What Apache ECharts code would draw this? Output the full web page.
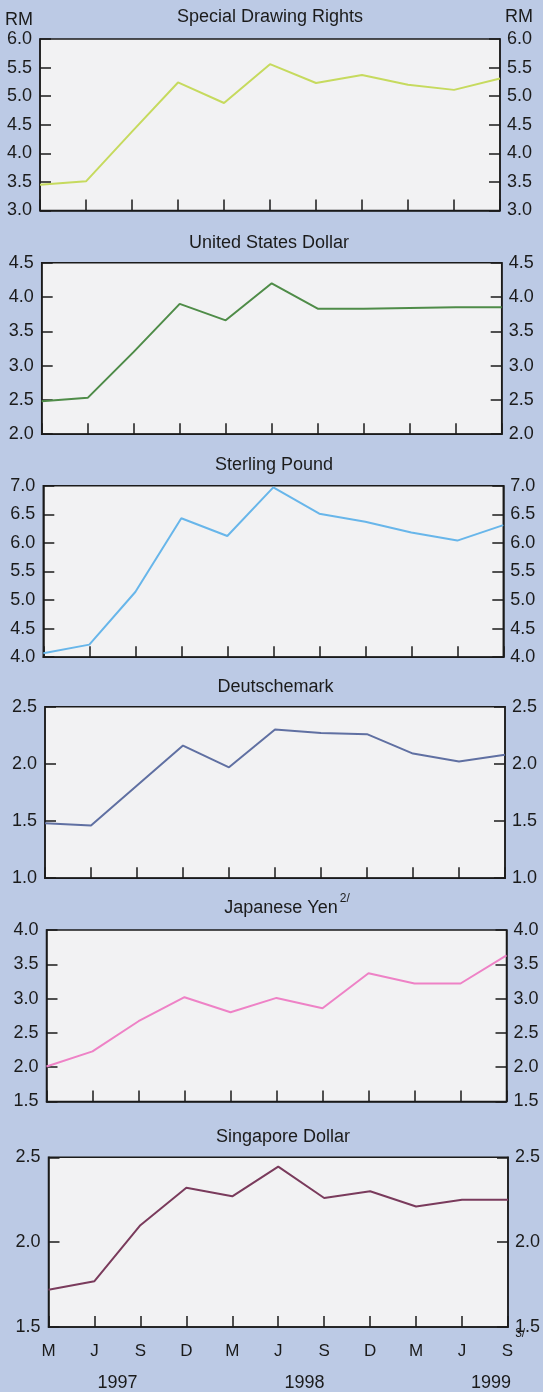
<!DOCTYPE html>
<html>
<head>
<meta charset="utf-8">
<script src="https://cdn.jsdelivr.net/npm/echarts@6/dist/echarts.min.js"></script>
<style>
html,body{margin:0;padding:0;background:#bccae5;}
#c{width:543px;height:1392px;}
</style>
</head>
<body>
<div id="c"></div>
<script>
// ---- data ----
const categories = ['M','J','S','D','M','J','S','D','M','J','S'];
const yearLabels = ['1997','1998','1999'];
const yearAt = [1.5, 5.57, 9.63];
const sdr = [3.45,3.51,4.38,5.24,4.88,5.56,5.23,5.37,5.20,5.11,5.31];
const usd = [2.48,2.53,3.20,3.90,3.66,4.20,3.83,3.83,3.84,3.85,3.85];
const gbp = [4.07,4.22,5.14,6.43,6.12,6.97,6.51,6.37,6.18,6.04,6.31];
const dem = [1.48,1.46,1.81,2.16,1.97,2.30,2.27,2.26,2.09,2.02,2.08];
const jpy = [2.01,2.23,2.67,3.02,2.80,3.01,2.86,3.37,3.22,3.22,3.63];
const sgd = [1.72,1.77,2.10,2.32,2.27,2.445,2.26,2.30,2.21,2.25,2.25];
const titles = ['Special Drawing Rights','United States Dollar','Sterling Pound','Deutschemark','{t|Japanese Yen}{s|2/}','Singapore Dollar'];
const yMin = [3.0,2.0,4.0,1.0,1.5,1.5];
const yMax = [6.0,4.5,7.0,2.5,4.0,2.5];
const yStep = 0.5;
const unitLabel = 'RM';

// ---- styling / layout ----
const seriesData = [sdr, usd, gbp, dem, jpy, sgd];
const colors = ['#c6da5e','#4f8c48','#68b6ea','#6070a2','#ee82c6','#7a3b5c'];
const gridLeft = [40, 41.7, 43.3, 45, 46.5, 48.5];
const gridTop = [39, 262.7, 485.7, 706.7, 930, 1157.3];
const gridW = 460, gridH = 171.5;
const titleX = [270, 269, 274, 275.5, 287, 283];
const titleY = [17, 243, 465, 687, 908, 1137];
const FONT = '"Liberation Sans", Arial, Helvetica, sans-serif';
const INK = '#1b1b1b';

const grids = [], xAxes = [], yAxes = [], series = [], titleArr = [];
for (let i = 0; i < 6; i++) {
  grids.push({
    left: gridLeft[i], top: gridTop[i], width: gridW, height: gridH,
    show: true, backgroundColor: '#f2f2f3', borderColor: INK, borderWidth: 1.5
  });
  const last = i === 5;
  xAxes.push({
    gridIndex: i, type: 'category', data: categories, boundaryGap: false,
    position: 'bottom',
    axisLine: { show: true, lineStyle: { color: INK, width: 1.5 } },
    axisTick: { show: true, inside: true, length: 11, interval: 0, lineStyle: { color: INK, width: 1.5 } },
    axisLabel: last ? {
      show: true, interval: 0, margin: 1, color: INK, fontFamily: FONT, fontSize: 17,
      formatter: function (v, idx) {
        return idx === categories.length - 1 ? '{pad| }{b|' + v + '}{sup|3/}' : '{b|' + v + '}';
      },
      rich: {
        b: { fontSize: 17, fontFamily: FONT, color: INK, padding: [15, 0, 0, 0], verticalAlign: 'bottom' },
        pad: { width: 12, fontSize: 12 },
        sup: { fontSize: 12, fontFamily: FONT, color: INK, verticalAlign: 'top', width: 12, padding: [0, 0, 0, 1] }
      }
    } : { show: false },
    splitLine: { show: false }
  });
  const common = {
    gridIndex: i, type: 'value', min: yMin[i], max: yMax[i], interval: yStep,
    axisLine: { show: true, lineStyle: { color: INK, width: 1.5 } },
    axisTick: { show: true, inside: true, length: 11, lineStyle: { color: INK, width: 1.5 } },
    splitLine: { show: false }
  };
  yAxes.push(Object.assign({}, common, {
    position: 'left',
    axisLabel: { margin: 8, color: INK, fontFamily: FONT, fontSize: 18, formatter: v => v.toFixed(1) },
    name: i === 0 ? unitLabel : '', nameLocation: 'end', nameGap: 10,
    nameTextStyle: { color: INK, fontFamily: FONT, fontSize: 18, align: 'right', padding: [0, 7, 0, 0] }
  }));
  yAxes.push(Object.assign({}, common, {
    position: 'right',
    axisLabel: { margin: 7, color: INK, fontFamily: FONT, fontSize: 18, formatter: v => v.toFixed(1) },
    name: i === 0 ? unitLabel : '', nameLocation: 'end', nameGap: 13,
    nameTextStyle: { color: INK, fontFamily: FONT, fontSize: 18, align: 'left', padding: [0, 0, 0, 5] }
  }));
  series.push({
    type: 'line', xAxisIndex: i, yAxisIndex: 2 * i, data: seriesData[i],
    symbol: 'none', lineStyle: { color: colors[i], width: 2 }, z: 5
  });
  titleArr.push({
    text: titles[i], left: titleX[i], top: titleY[i] - 9 - (i === 4 ? 6 : 0), textAlign: 'center', padding: 0,
    textStyle: {
      color: INK, fontFamily: FONT, fontSize: 18, fontWeight: 'normal',
      rich: {
        t: { fontSize: 18, fontFamily: FONT, color: INK, padding: [6, 0, 0, 0], verticalAlign: 'bottom' },
        s: { fontSize: 12, fontFamily: FONT, color: INK, verticalAlign: 'top', padding: [0, 0, 0, 2] }
      }
    }
  });
}
// year row under the last panel
xAxes.push({
  gridIndex: 5, type: 'value', min: 0, max: categories.length - 1, position: 'bottom', offset: 0,
  axisLine: { show: false }, axisTick: { show: false }, splitLine: { show: false },
  axisLabel: {
    show: true, customValues: yearAt, margin: 47, color: INK, fontFamily: FONT, fontSize: 18,
    formatter: v => { const k = yearAt.indexOf(v); return k >= 0 ? yearLabels[k] : ''; }
  }
});

const chart = echarts.init(document.getElementById('c'), null, { renderer: 'canvas' });
chart.setOption({
  backgroundColor: '#bccae5',
  animation: false,
  title: titleArr,
  grid: grids,
  xAxis: xAxes,
  yAxis: yAxes,
  series: series
});
</script>
</body>
</html>
